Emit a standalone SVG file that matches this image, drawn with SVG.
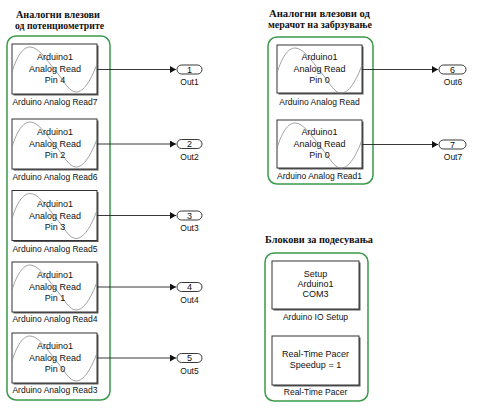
<svg xmlns="http://www.w3.org/2000/svg" xmlns:xlink="http://www.w3.org/1999/xlink" width="480" height="415" viewBox="0 0 480 415">
<style>
.grp{fill:none;stroke:#3a9a4a;stroke-width:1.5}
.sh{fill:#5a5a5a}
.blk{fill:#fff;stroke:#333;stroke-width:1}
.sine{fill:none;stroke:#8a8a8a;stroke-width:0.8}
.bt{font-family:"Liberation Sans",Arial,sans-serif;font-size:9px;fill:#111;text-anchor:middle}
.lb{font-family:"Liberation Sans",Arial,sans-serif;font-size:8.5px;fill:#111;text-anchor:middle}
.ttl{font-family:"Liberation Serif","Times New Roman",serif;font-size:11px;font-weight:bold;fill:#111;text-anchor:middle}
.port{fill:#fff;stroke:#222;stroke-width:0.9}
.wire{fill:none;stroke:#222;stroke-width:0.9}
</style>
<defs>
<marker id="arr" markerWidth="7" markerHeight="7" refX="6" refY="3.5" orient="auto" markerUnits="userSpaceOnUse">
<path d="M0,0 L6,3.5 L0,7 Z" fill="#111"/>
</marker>
<path id="sine" d="M0,28 C5,12 11,3 18,3 C26,3 33,14 43,26 C52,37 57,48 64,48 C72,48 79,36 85,20"/>
</defs>

<!-- group frames and titles -->
<g id="group-pot">
<text class="ttl" x="58" y="18" textLength="84" lengthAdjust="spacingAndGlyphs">Аналогни влезови</text>
<text class="ttl" x="59.5" y="29" textLength="89" lengthAdjust="spacingAndGlyphs">од потенциометрите</text>
<rect class="grp" x="7" y="36" width="103" height="364" rx="9"/>
</g>
<g id="group-acc">
<text class="ttl" x="319.5" y="17" textLength="101" lengthAdjust="spacingAndGlyphs">Аналогни влезови од</text>
<text class="ttl" x="320" y="28" textLength="104" lengthAdjust="spacingAndGlyphs">мерачот на забрзување</text>
<rect class="grp" x="268" y="37" width="105" height="147" rx="9"/>
</g>
<g id="group-setup">
<text class="ttl" x="319" y="243" textLength="108" lengthAdjust="spacingAndGlyphs">Блокови за подесувања</text>
<rect class="grp" x="265" y="253" width="103" height="148" rx="9"/>
</g>

<!-- analog read blocks -->
<g id="read7" transform="translate(12,44)">
<rect class="sh" x="1.5" y="1.5" width="85" height="50"/>
<rect class="blk" x="0" y="0" width="85" height="50"/>
<use href="#sine" class="sine"/>
<text class="bt" x="43" y="16">Arduino1</text>
<text class="bt" x="43" y="28">Analog Read</text>
<text class="bt" x="43" y="39">Pin 4</text>
<text class="lb" x="43" y="61">Arduino Analog Read7</text>
</g>
<g id="read6" transform="translate(12,119)">
<rect class="sh" x="1.5" y="1.5" width="85" height="50"/>
<rect class="blk" x="0" y="0" width="85" height="50"/>
<use href="#sine" class="sine"/>
<text class="bt" x="43" y="16">Arduino1</text>
<text class="bt" x="43" y="28">Analog Read</text>
<text class="bt" x="43" y="39">Pin 2</text>
<text class="lb" x="43" y="61">Arduino Analog Read6</text>
</g>
<g id="read5" transform="translate(12,190.5)">
<rect class="sh" x="1.5" y="1.5" width="85" height="50"/>
<rect class="blk" x="0" y="0" width="85" height="50"/>
<use href="#sine" class="sine"/>
<text class="bt" x="43" y="16">Arduino1</text>
<text class="bt" x="43" y="28">Analog Read</text>
<text class="bt" x="43" y="39">Pin 3</text>
<text class="lb" x="43" y="61">Arduino Analog Read5</text>
</g>
<g id="read4" transform="translate(12,262)">
<rect class="sh" x="1.5" y="1.5" width="85" height="50"/>
<rect class="blk" x="0" y="0" width="85" height="50"/>
<use href="#sine" class="sine"/>
<text class="bt" x="43" y="16">Arduino1</text>
<text class="bt" x="43" y="28">Analog Read</text>
<text class="bt" x="43" y="39">Pin 1</text>
<text class="lb" x="43" y="60">Arduino Analog Read4</text>
</g>
<g id="read3" transform="translate(12,333)">
<rect class="sh" x="1.5" y="1.5" width="85" height="50"/>
<rect class="blk" x="0" y="0" width="85" height="50"/>
<use href="#sine" class="sine"/>
<text class="bt" x="43" y="16">Arduino1</text>
<text class="bt" x="43" y="28">Analog Read</text>
<text class="bt" x="43" y="39">Pin 0</text>
<text class="lb" x="43" y="60">Arduino Analog Read3</text>
</g>
<g id="read" transform="translate(277,45)">
<rect class="sh" x="1.5" y="1.5" width="85" height="48"/>
<rect class="blk" x="0" y="0" width="85" height="48"/>
<use href="#sine" class="sine"/>
<text class="bt" x="42.5" y="15">Arduino1</text>
<text class="bt" x="42.5" y="27">Analog Read</text>
<text class="bt" x="42.5" y="38">Pin 0</text>
<text class="lb" x="42.5" y="60">Arduino Analog Read</text>
</g>
<g id="read1" transform="translate(277,120)">
<rect class="sh" x="1.5" y="1.5" width="85" height="48"/>
<rect class="blk" x="0" y="0" width="85" height="48"/>
<use href="#sine" class="sine"/>
<text class="bt" x="42.5" y="15">Arduino1</text>
<text class="bt" x="42.5" y="27">Analog Read</text>
<text class="bt" x="42.5" y="38">Pin 0</text>
<text class="lb" x="42.5" y="59">Arduino Analog Read1</text>
</g>

<!-- setup blocks -->
<g id="io-setup" transform="translate(272,261)">
<rect class="sh" x="1.5" y="1.5" width="87" height="48"/>
<rect class="blk" x="0" y="0" width="87" height="48"/>
<text class="bt" x="43.5" y="16">Setup</text>
<text class="bt" x="43.5" y="26">Arduino1</text>
<text class="bt" x="43.5" y="36">COM3</text>
<text class="lb" x="43.5" y="59">Arduino IO Setup</text>
</g>
<g id="pacer" transform="translate(272,336)">
<rect class="sh" x="1.5" y="1.5" width="87" height="49"/>
<rect class="blk" x="0" y="0" width="87" height="49"/>
<text class="bt" x="43.5" y="21">Real-Time Pacer</text>
<text class="bt" x="43.5" y="32">Speedup = 1</text>
<text class="lb" x="43.5" y="59">Real-Time Pacer</text>
</g>

<!-- outports -->
<g id="out1"><rect class="port" x="177" y="65" width="25" height="9" rx="4.5"/><text class="bt" x="189.5" y="72.5">1</text><text class="lb" x="189.5" y="85">Out1</text></g>
<g id="out2"><rect class="port" x="177" y="139.5" width="25" height="9" rx="4.5"/><text class="bt" x="189.5" y="147">2</text><text class="lb" x="189.5" y="159.5">Out2</text></g>
<g id="out3"><rect class="port" x="177" y="211" width="25" height="9" rx="4.5"/><text class="bt" x="189.5" y="218.5">3</text><text class="lb" x="189.5" y="231">Out3</text></g>
<g id="out4"><rect class="port" x="177" y="282.5" width="25" height="9" rx="4.5"/><text class="bt" x="189.5" y="290">4</text><text class="lb" x="189.5" y="302.5">Out4</text></g>
<g id="out5"><rect class="port" x="177" y="353.5" width="25" height="9" rx="4.5"/><text class="bt" x="189.5" y="361">5</text><text class="lb" x="189.5" y="373.5">Out5</text></g>
<g id="out6"><rect class="port" x="439" y="65" width="27" height="9" rx="4.5"/><text class="bt" x="452.5" y="72.5">6</text><text class="lb" x="453" y="85">Out6</text></g>
<g id="out7"><rect class="port" x="439" y="140" width="27" height="9" rx="4.5"/><text class="bt" x="452.5" y="147.5">7</text><text class="lb" x="453" y="160">Out7</text></g>

<!-- connectors -->
<g id="connectors">
<path class="wire" d="M97,69.5 H176" marker-end="url(#arr)"/>
<path class="wire" d="M97,144 H176" marker-end="url(#arr)"/>
<path class="wire" d="M97,215.5 H176" marker-end="url(#arr)"/>
<path class="wire" d="M97,287 H176" marker-end="url(#arr)"/>
<path class="wire" d="M97,358 H176" marker-end="url(#arr)"/>
<path class="wire" d="M362,69.5 H438" marker-end="url(#arr)"/>
<path class="wire" d="M362,144.5 H438" marker-end="url(#arr)"/>
</g>
</svg>
